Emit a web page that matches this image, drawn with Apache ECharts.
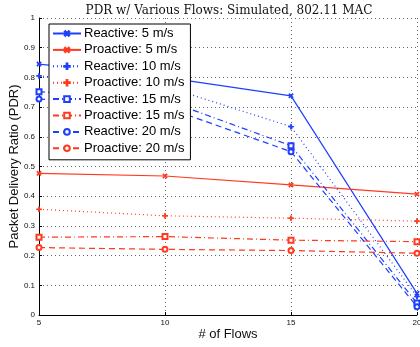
<!DOCTYPE html>
<html>
<head>
<meta charset="utf-8">
<script src="https://cdn.jsdelivr.net/npm/echarts@6/dist/echarts.min.js"></script>
<style>
  html, body { margin: 0; padding: 0; background: #fff; }
  #chart { width: 420px; height: 347px; }
</style>
</head>
<body>
<div id="chart"></div>
<script>
// # of flows
const flows = [5, 10, 15, 20];

// PDR values
const reactive5 = [0.845, 0.80, 0.738, 0.073];
const proactive5 = [0.477, 0.468, 0.438, 0.407];
const reactive10 = [0.805, 0.77, 0.634, 0.062];
const proactive10 = [0.356, 0.334, 0.326, 0.316];
const reactive15 = [0.752, 0.724, 0.570, 0.040];
const proactive15 = [0.262, 0.264, 0.252, 0.247];
const reactive20 = [0.727, 0.70, 0.550, 0.028];
const proactive20 = [0.227, 0.221, 0.217, 0.208];

const BLUE = '#1f3fff';
const RED = '#ff3a1f';
const PLUS = 'path://M4.3,0H5.7V4.3H10V5.7H5.7V10H4.3V5.7H0V4.3H4.3Z';

const dotted = [1, 3];
const dashdot = [6, 3, 1, 3];
const dashed = [6, 4];

function mk(name, values, color, dash, symbol, rotate) {
  return {
    name,
    type: 'line',
    data: values.map((v, i) => [flows[i], v]),
    symbol,
    symbolSize: 5,
    symbolRotate: rotate || 0,
    showAllSymbol: true,
    itemStyle: { color, borderColor: color, borderWidth: 1 },
    lineStyle: { color, width: 1.2, type: dash },
    animation: false
  };
}

const series = [
  mk('Reactive: 5 m/s', reactive5, BLUE, 'solid', PLUS, 45),
  mk('Proactive: 5 m/s', proactive5, RED, 'solid', PLUS, 45),
  mk('Reactive: 10 m/s', reactive10, BLUE, dotted, PLUS),
  mk('Proactive: 10 m/s', proactive10, RED, dotted, PLUS),
  mk('Reactive: 15 m/s', reactive15, BLUE, dashdot, 'emptyRect'),
  mk('Proactive: 15 m/s', proactive15, RED, dashdot, 'emptyRect'),
  mk('Reactive: 20 m/s', reactive20, BLUE, dashed, 'emptyCircle'),
  mk('Proactive: 20 m/s', proactive20, RED, dashed, 'emptyCircle')
];

const chart = echarts.init(document.getElementById('chart'), null, { renderer: 'canvas' });

const gridLine = { show: true, lineStyle: { color: '#666', type: [1, 3], width: 1 } };
const tickLabel = { fontSize: 8, color: '#111', fontFamily: 'Liberation Sans' };

chart.setOption({
  animation: false,
  title: {
    text: 'PDR w/ Various Flows: Simulated, 802.11 MAC',
    left: 224,
    textAlign: 'center',
    top: 0,
    textStyle: { fontFamily: 'DejaVu Serif', fontWeight: 'normal', fontSize: 12, color: '#111' }
  },
  legend: {
    orient: 'vertical',
    left: 49,
    top: 24,
    width: 139,
    itemWidth: 28,
    itemHeight: 7,
    itemGap: 3.4,
    padding: [3, 6, 5, 3],
    backgroundColor: '#fff',
    borderColor: '#000',
    borderWidth: 1,
    textStyle: { fontFamily: 'Liberation Sans', fontSize: 13, color: '#000', padding: [0, 0, 0, -2] },
    data: series.map(s => s.name)
  },
  grid: { left: 39, right: 3, top: 18, bottom: 32, outerBoundsMode: 'none', containLabel: false },
  xAxis: {
    type: 'value',
    min: 5,
    max: 20,
    interval: 5,
    name: '# of Flows',
    nameLocation: 'middle',
    nameMoveOverlap: false,
    nameGap: 12.5,
    nameTextStyle: { fontFamily: 'Liberation Sans', fontSize: 13, color: '#111' },
    axisLine: { show: true, lineStyle: { color: '#000', width: 1 } },
    axisTick: { show: true, inside: true, length: 3, lineStyle: { color: '#000' } },
    axisLabel: Object.assign({ margin: 4 }, tickLabel),
    splitLine: gridLine
  },
  yAxis: {
    type: 'value',
    min: 0,
    max: 1,
    interval: 0.1,
    name: 'Packet Delivery Ratio (PDR)',
    nameLocation: 'middle',
    nameMoveOverlap: false,
    nameGap: 18,
    nameTextStyle: { fontFamily: 'Liberation Sans', fontSize: 13, color: '#111' },
    axisLine: { show: true, lineStyle: { color: '#000', width: 1 } },
    axisTick: { show: true, inside: true, length: 3, lineStyle: { color: '#000' } },
    axisLabel: Object.assign({ margin: 4, formatter: v => String(Math.round(v * 10) / 10) }, tickLabel),
    splitLine: gridLine
  },
  series
});
</script>
</body>
</html>
